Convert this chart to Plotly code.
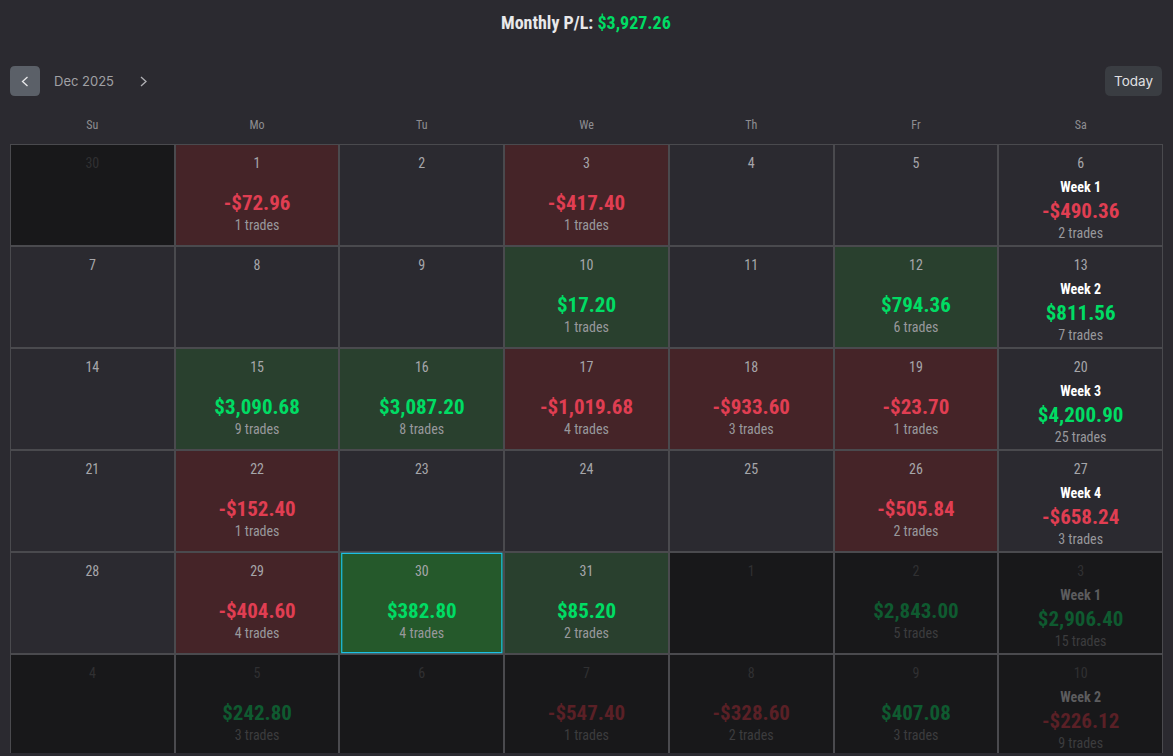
import plotly.graph_objects as go

WIDTH = 1173
HEIGHT = 756

# calendar data, row by row (sunday first)
weekdays = ["Su", "Mo", "Tu", "We", "Th", "Fr", "Sa"]
days = [
    [30, 1, 2, 3, 4, 5, 6],
    [7, 8, 9, 10, 11, 12, 13],
    [14, 15, 16, 17, 18, 19, 20],
    [21, 22, 23, 24, 25, 26, 27],
    [28, 29, 30, 31, 1, 2, 3],
    [4, 5, 6, 7, 8, 9, 10],
]
in_month = [
    [0, 1, 1, 1, 1, 1, 1],
    [1, 1, 1, 1, 1, 1, 1],
    [1, 1, 1, 1, 1, 1, 1],
    [1, 1, 1, 1, 1, 1, 1],
    [1, 1, 1, 1, 0, 0, 0],
    [0, 0, 0, 0, 0, 0, 0],
]
pnl = [
    [None, -72.96, None, -417.40, None, None, None],
    [None, None, None, 17.20, None, 794.36, None],
    [None, 3090.68, 3087.20, -1019.68, -933.60, -23.70, None],
    [None, -152.40, None, None, None, -505.84, None],
    [None, -404.60, 382.80, 85.20, None, 2843.00, None],
    [None, 242.80, None, -547.40, -328.60, 407.08, None],
]
trades = [
    [None, 1, None, 1, None, None, None],
    [None, None, None, 1, None, 6, None],
    [None, 9, 8, 4, 3, 1, None],
    [None, 1, None, None, None, 2, None],
    [None, 4, 4, 2, None, 5, None],
    [None, 3, None, 1, 2, 3, None],
]
week_labels = ["Week 1", "Week 2", "Week 3", "Week 4", "Week 1", "Week 2"]
week_pnl = [-490.36, 811.56, 4200.90, -658.24, 2906.40, -226.12]
week_trades = [2, 7, 25, 3, 15, 9]
week_in_month = [1, 1, 1, 1, 0, 0]
today_cell = (4, 2)
month_label = "Dec 2025"
month_total = 3927.26

BG = "#2b2a30"
GRID = "#4a4a4e"
GREEN = "#00dc64"
RED = "#e03e52"
DIM_GREEN = "#0f5a30"
DIM_RED = "#5a2026"
DAY_COLOR = "#a6a6aa"
TRADES_COLOR = "#98989c"
FONT = "Roboto Condensed, Liberation Sans Narrow, Roboto, sans-serif"


def money(v):
    return f"-${abs(v):,.2f}" if v < 0 else f"${v:,.2f}"


def fx(x):
    return x / WIDTH


def fy(y):
    return 1 - y / HEIGHT


def rounded_box(x0, y0, x1, y1, r):
    return (f"M {fx(x0 + r)} {fy(y0)} L {fx(x1 - r)} {fy(y0)} Q {fx(x1)} {fy(y0)} {fx(x1)} {fy(y0 + r)} "
            f"L {fx(x1)} {fy(y1 - r)} Q {fx(x1)} {fy(y1)} {fx(x1 - r)} {fy(y1)} "
            f"L {fx(x0 + r)} {fy(y1)} Q {fx(x0)} {fy(y1)} {fx(x0)} {fy(y1 - r)} "
            f"L {fx(x0)} {fy(y0 + r)} Q {fx(x0)} {fy(y0)} {fx(x0 + r)} {fy(y0)} Z")


def chevron(x, y, w, h):
    return f"M {fx(x + w)} {fy(y - h)} L {fx(x)} {fy(y)} L {fx(x + w)} {fy(y + h)}"


# 0 other month, 1 no trades, 2 profit, 3 loss, 4 today
z = []
for r, row in enumerate(pnl):
    codes = []
    for c, v in enumerate(row):
        if not in_month[r][c]:
            codes.append(0)
        elif (r, c) == today_cell:
            codes.append(4)
        elif v is None:
            codes.append(1)
        else:
            codes.append(2 if v > 0 else 3)
    z.append(codes)

cols = list(range(len(weekdays)))
rows = list(range(len(days)))

fig = go.Figure()
fig.add_trace(go.Heatmap(
    z=z, x=cols, y=rows, xgap=2, ygap=2, zmin=0, zmax=4, showscale=False, hoverinfo="skip",
    colorscale=[
        [0, "#18181a"], [0.2, "#18181a"],
        [0.2, BG], [0.4, BG],
        [0.4, "#29402e"], [0.6, "#29402e"],
        [0.6, "#452428"], [0.8, "#452428"],
        [0.8, "#25592b"], [1, "#25592b"],
    ],
))

# day numbers
day_x, day_y, day_text, day_color = [], [], [], []
for r in rows:
    for c in cols:
        day_x.append(c)
        day_y.append(r - 0.298)
        day_text.append(str(days[r][c]))
        day_color.append(DAY_COLOR if in_month[r][c] else "#303032")
fig.add_trace(go.Scatter(x=day_x, y=day_y, text=day_text, mode="text", hoverinfo="skip",
                         textfont=dict(family=FONT, size=14, color=day_color)))

# daily P/L and trade counts
pnl_x, pnl_y, pnl_text, pnl_color = [], [], [], []
tr_x, tr_y, tr_text, tr_color = [], [], [], []
for r in rows:
    for c in cols:
        v = pnl[r][c]
        if v is None:
            continue
        on = in_month[r][c]
        pnl_x.append(c)
        pnl_y.append(r + 0.093)
        pnl_text.append(money(v))
        pnl_color.append((GREEN if v > 0 else RED) if on else (DIM_GREEN if v > 0 else DIM_RED))
        tr_x.append(c)
        tr_y.append(r + 0.309)
        tr_text.append(f"{trades[r][c]} trades")
        tr_color.append(TRADES_COLOR if on else "#3c3c3e")

# weekly summary in the last column
for r in rows:
    v = week_pnl[r]
    on = week_in_month[r]
    pnl_x.append(6)
    pnl_y.append(r + 0.177)
    pnl_text.append(money(v))
    pnl_color.append((GREEN if v > 0 else RED) if on else (DIM_GREEN if v > 0 else DIM_RED))
    tr_x.append(6)
    tr_y.append(r + 0.387)
    tr_text.append(f"{week_trades[r]} trades")
    tr_color.append(TRADES_COLOR if on else "#3c3c3e")

fig.add_trace(go.Scatter(x=pnl_x, y=pnl_y, text=pnl_text, mode="text", hoverinfo="skip",
                         textfont=dict(family=FONT, size=21, color=pnl_color, weight=700)))
fig.add_trace(go.Scatter(x=tr_x, y=tr_y, text=tr_text, mode="text", hoverinfo="skip",
                         textfont=dict(family=FONT, size=14, color=tr_color)))
fig.add_trace(go.Scatter(x=[6] * len(rows), y=[r - 0.064 for r in rows], text=week_labels, mode="text",
                         hoverinfo="skip",
                         textfont=dict(family=FONT, size=14, weight=700,
                                       color=["#ffffff" if w else "#5c5c5e" for w in week_in_month])))

shapes = [
    dict(type="rect", xref="x", yref="y", x0=today_cell[1] - 0.486, x1=today_cell[1] + 0.486,
         y0=today_cell[0] - 0.487, y1=today_cell[0] + 0.487, line=dict(color="#1cc0e4", width=1.2)),
    dict(type="path", xref="paper", yref="paper", path=rounded_box(10, 66, 40, 96, 5),
         fillcolor="#5b6068", line=dict(width=0)),
    dict(type="path", xref="paper", yref="paper", path=chevron(22.5, 81.5, 5, 4.5),
         line=dict(color="#e8e8ea", width=1.3)),
    dict(type="path", xref="paper", yref="paper", path=chevron(146, 81.5, -5, 4.5),
         line=dict(color="#b0b0b4", width=1.3)),
    dict(type="path", xref="paper", yref="paper", path=rounded_box(1105, 66, 1162, 96, 6),
         fillcolor="#3a3d42", line=dict(width=0)),
]

annotations = [
    dict(xref="paper", yref="paper", x=fx(586), y=fy(22.5), showarrow=False, xanchor="center", yanchor="middle",
         text=f"<b>Monthly P/L: <span style='color:{GREEN}'>{money(month_total)}</span></b>",
         font=dict(family=FONT, size=18, color="#e8e8ea")),
    dict(xref="paper", yref="paper", x=fx(84), y=fy(81), showarrow=False, xanchor="center", yanchor="middle",
         text=month_label, font=dict(family="Inter, Roboto", size=13, color="#a0a0a4")),
    dict(xref="paper", yref="paper", x=fx(1133.5), y=fy(81), showarrow=False, xanchor="center", yanchor="middle",
         text="Today", font=dict(family="Inter, Roboto", size=13.5, color="#e0e0e2")),
]

fig.update_layout(
    width=WIDTH, height=HEIGHT, autosize=False, margin=dict(l=0, r=0, t=0, b=0),
    paper_bgcolor=BG, plot_bgcolor=GRID, showlegend=False,
    shapes=shapes, annotations=annotations,
)
fig.update_xaxes(
    domain=[fx(10), fx(1163)], range=[-0.5, 6.5], side="top", tickmode="array", tickvals=cols,
    ticktext=weekdays, tickfont=dict(family=FONT, size=12, color="#8e8e92"), ticks="outside", ticklen=9,
    tickcolor="rgba(0,0,0,0)", showgrid=False, zeroline=False, showline=False, fixedrange=True,
)
# last row is cut off by the bottom of the page
fig.update_yaxes(
    domain=[fy(753), fy(144)], range=[5.47, -0.5], visible=False, showgrid=False, zeroline=False, fixedrange=True,
)

fig.write_html("out.html", config={"displayModeBar": False},
               post_script="document.body.style.margin='0';document.body.style.overflow='hidden';document.body.style.background='#2b2a30';")
